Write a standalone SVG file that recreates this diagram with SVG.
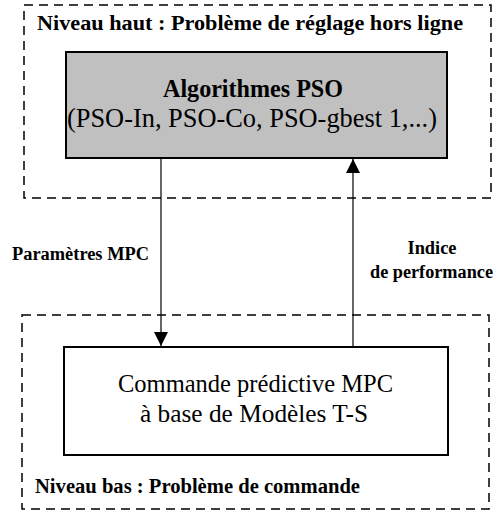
<svg xmlns="http://www.w3.org/2000/svg" width="494" height="513" viewBox="0 0 494 513">
<style>
.lvl{fill:none;stroke:#000;stroke-width:1.5;stroke-dasharray:9 6}
.box{stroke:#000;stroke-width:2}
.b{font-family:"Liberation Serif",serif;font-weight:bold;fill:#000}
.n{font-family:"Liberation Serif",serif;fill:#000}
.ln{stroke:#000;stroke-width:1.2;fill:none}
</style>
<defs>
<marker id="ah" markerWidth="14" markerHeight="14" refX="14" refY="7" orient="auto" markerUnits="userSpaceOnUse">
<path d="M0,0 L14,7 L0,14 Z" fill="#000"/>
</marker>
</defs>
<g id="level-high">
<rect class="lvl" x="24" y="5" width="467" height="193"/>
<text class="b" x="37" y="30" font-size="20" textLength="426" lengthAdjust="spacingAndGlyphs">Niveau haut : Problème de réglage hors ligne</text>
</g>
<g id="level-low">
<rect class="lvl" x="22" y="315" width="467" height="194"/>
<text class="b" x="35" y="493" font-size="20" textLength="325" lengthAdjust="spacingAndGlyphs">Niveau bas : Problème de commande</text>
</g>
<g id="pso">
<rect class="box" x="66" y="52" width="381" height="106" fill="#c0c0c0"/>
<text class="b" x="253" y="97" font-size="25" text-anchor="middle" textLength="180" lengthAdjust="spacingAndGlyphs">Algorithmes PSO</text>
<text class="n" x="252" y="127" font-size="27" text-anchor="middle" textLength="370" lengthAdjust="spacingAndGlyphs">(PSO-In, PSO-Co, PSO-gbest 1,...)</text>
</g>
<g id="mpc">
<rect class="box" x="64" y="347" width="384" height="108" fill="#fff"/>
<text class="n" x="255.5" y="392" font-size="25.5" text-anchor="middle" textLength="275" lengthAdjust="spacingAndGlyphs">Commande prédictive MPC</text>
<text class="n" x="254" y="422" font-size="25.5" text-anchor="middle" textLength="228" lengthAdjust="spacingAndGlyphs">à base de Modèles T-S</text>
</g>
<g id="connectors">
<line class="ln" x1="161" y1="159" x2="161" y2="346" marker-end="url(#ah)"/>
<line class="ln" x1="353" y1="346" x2="353" y2="159" marker-end="url(#ah)"/>
<text class="b" x="12" y="260" font-size="18" textLength="137" lengthAdjust="spacingAndGlyphs">Paramètres MPC</text>
<text class="b" x="432" y="254" font-size="18" text-anchor="middle" textLength="49" lengthAdjust="spacingAndGlyphs">Indice</text>
<text class="b" x="431.5" y="278" font-size="18" text-anchor="middle" textLength="123" lengthAdjust="spacingAndGlyphs">de performance</text>
</g>
</svg>
